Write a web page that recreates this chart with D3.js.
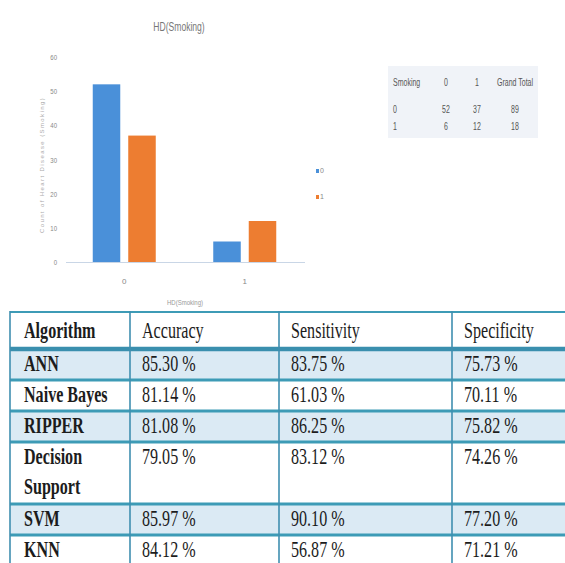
<!DOCTYPE html>
<html>
<head>
<meta charset="utf-8">
<script src="https://cdn.jsdelivr.net/npm/d3@7"></script>
<style>
  html, body { margin: 0; padding: 0; background: #fff; }
  svg { display: block; }
</style>
</head>
<body>
<div id="chart"></div>
<script>
// bar chart data (Smoking vs heart disease)
var categories = ["0", "1"];
var seriesNames = ["0", "1"];
var series0 = [52, 6];
var series1 = [37, 12];
var yTicks = [0, 10, 20, 30, 40, 50, 60];

// pivot table next to the chart
var pivotHeader = ["Smoking", "0", "1", "Grand Total"];

// results table
var tableHeader = ["Algorithm", "Accuracy", "Sensitivity", "Specificity"];
var algorithms = ["ANN", "Naive Bayes", "RIPPER", "Decision Support", "SVM", "KNN"];
var accuracy = [85.30, 81.14, 81.08, 79.05, 85.97, 84.12];
var sensitivity = [83.75, 61.03, 86.25, 83.12, 90.10, 56.87];
var specificity = [75.73, 70.11, 75.82, 74.26, 77.20, 71.21];

var width = 565, height = 563;
var colors = ["#4a90d9", "#ed7d31"];

var svg = d3.select("#chart").append("svg")
    .attr("width", width)
    .attr("height", height);

// ---------- bar chart ----------
var x0 = d3.scaleBand().domain(categories).range([64, 305]);
var x1 = d3.scaleBand().domain(seriesNames)
    .range([0, x0.bandwidth()])
    .paddingInner(0.225).paddingOuter(0.81);
var y = d3.scaleLinear().domain([0, 60]).range([262, 57]);

var barData = categories.map(function(c, i) {
    return { c: c, vals: [series0[i], series1[i]] };
});

svg.append("text")
    .attr("transform", "translate(179,31) scale(0.66,1)")
    .attr("text-anchor", "middle")
    .style("font-family", "Liberation Sans")
    .style("font-size", "13px")
    .style("fill", "#777")
    .text("HD(Smoking)");

svg.append("g").selectAll("text")
    .data(yTicks)
    .enter().append("text")
    .attr("transform", function(d) { return "translate(57," + (y(d) + 3) + ") scale(0.75,1)"; })
    .attr("text-anchor", "end")
    .style("font-family", "Liberation Sans")
    .style("font-size", "8px")
    .style("fill", "#888")
    .text(function(d) { return d; });

svg.append("text")
    .attr("transform", "translate(44,165) rotate(-90)")
    .attr("text-anchor", "middle")
    .style("font-family", "Liberation Sans")
    .style("font-size", "6px")
    .style("letter-spacing", "1.4px")
    .style("fill", "#aaa")
    .text("Count of Heart Disease (Smoking)");

var groups = svg.append("g").selectAll("g")
    .data(barData)
    .enter().append("g")
    .attr("transform", function(d) { return "translate(" + x0(d.c) + ",0)"; });

groups.selectAll("rect")
    .data(function(d) { return d.vals.map(function(v, i) { return { s: seriesNames[i], v: v, i: i }; }); })
    .enter().append("rect")
    .attr("x", function(d) { return x1(d.s); })
    .attr("width", x1.bandwidth())
    .attr("y", function(d) { return y(d.v); })
    .attr("height", function(d) { return y(0) - y(d.v); })
    .attr("fill", function(d) { return colors[d.i]; });

svg.append("line")
    .attr("x1", 66).attr("x2", 305)
    .attr("y1", y(0) + 0.5).attr("y2", y(0) + 0.5)
    .attr("stroke", "#c9d6e6").attr("stroke-width", 1);

svg.append("g").selectAll("text")
    .data(categories)
    .enter().append("text")
    .attr("x", function(d) { return x0(d) + x0.bandwidth() / 2; })
    .attr("y", 284)
    .attr("text-anchor", "middle")
    .style("font-family", "Liberation Sans")
    .style("font-size", "8px")
    .style("fill", "#888")
    .text(function(d) { return d; });

svg.append("text")
    .attr("transform", "translate(185,305) scale(0.75,1)")
    .attr("text-anchor", "middle")
    .style("font-family", "Liberation Sans")
    .style("font-size", "8px")
    .style("fill", "#999")
    .text("HD(Smoking)");

// legend
var legend = svg.append("g").selectAll("g")
    .data(seriesNames)
    .enter().append("g")
    .attr("transform", function(d, i) { return "translate(316," + (173 + i * 26) + ")"; });
legend.append("rect")
    .attr("x", 0).attr("y", -4).attr("width", 3).attr("height", 4)
    .attr("fill", function(d, i) { return colors[i]; });
legend.append("text")
    .attr("x", 4).attr("y", 0)
    .style("font-family", "Liberation Sans")
    .style("font-size", "7px")
    .style("fill", "#888")
    .text(function(d) { return d; });

// pivot table
var pivot = svg.append("g");
pivot.append("rect")
    .attr("x", 388).attr("y", 66).attr("width", 150).attr("height", 72)
    .attr("fill", "#f0f3f8");
var pivotRows = [pivotHeader].concat(categories.map(function(c, i) {
    return [c, series0[i], series1[i], series0[i] + series1[i]];
}));
var pivotX = [393, 446, 477, 515];
var pivotY = [86, 113, 130];
var pivotAnchor = ["start", "middle", "middle", "middle"];
pivotRows.forEach(function(row, r) {
    pivot.selectAll(null)
        .data(row)
        .enter().append("text")
        .attr("transform", function(d, i) { return "translate(" + pivotX[i] + "," + pivotY[r] + ") scale(0.7,1)"; })
        .attr("text-anchor", function(d, i) { return pivotAnchor[i]; })
        .style("font-family", "Liberation Sans")
        .style("font-size", "10px")
        .style("fill", "#555")
        .text(function(d) { return d; });
});

// ---------- results table ----------
var colEdges = [10, 130, 279, 452, 640];
var fmt = function(v) { return d3.format(".2f")(v) + " %"; };
var lineColor = "#3d9bb6";

var rows = algorithms.map(function(a, i) {
    var name = a.length > 12 ? a.split(" ") : [a];
    return { name: name, vals: [fmt(accuracy[i]), fmt(sensitivity[i]), fmt(specificity[i])], units: name.length };
});
var cum = [0];
rows.forEach(function(r, i) { cum.push(cum[i] + r.units); });
var ry = d3.scaleLinear().domain([0, 7]).range([349, 566]);

var table = svg.append("g");

// shaded rows
table.selectAll(".shade")
    .data(rows)
    .enter().append("rect")
    .attr("x", colEdges[0])
    .attr("y", function(d, i) { return ry(cum[i]); })
    .attr("width", colEdges[4] - colEdges[0])
    .attr("height", function(d, i) { return ry(cum[i + 1]) - ry(cum[i]); })
    .attr("fill", function(d, i) { return i % 2 === 0 ? "#dbeaf4" : "#fff"; });

// horizontal rules
table.append("line")
    .attr("x1", colEdges[0]).attr("x2", width)
    .attr("y1", 312).attr("y2", 312)
    .attr("stroke", lineColor).attr("stroke-width", 2);
table.append("line")
    .attr("x1", colEdges[0]).attr("x2", width)
    .attr("y1", ry(0)).attr("y2", ry(0))
    .attr("stroke", "#3a8fae").attr("stroke-width", 4.5);
table.selectAll(".hr")
    .data(cum.slice(1, -1))
    .enter().append("line")
    .attr("x1", colEdges[0]).attr("x2", width)
    .attr("y1", function(d) { return ry(d); })
    .attr("y2", function(d) { return ry(d); })
    .attr("stroke", lineColor).attr("stroke-width", 3);

// vertical rules
table.selectAll(".vr")
    .data(colEdges.slice(0, 4))
    .enter().append("line")
    .attr("x1", function(d) { return d; }).attr("x2", function(d) { return d; })
    .attr("y1", 311).attr("y2", height)
    .attr("stroke", "#3f8fb0").attr("stroke-width", 1.6);

function cellText(g, txt, xx, yy, bold) {
    g.append("text")
        .attr("transform", "translate(" + xx + "," + yy + ") scale(0.7,1)")
        .style("font-family", "Liberation Serif")
        .style("font-size", "23px")
        .style("font-weight", bold ? "bold" : "normal")
        .style("fill", "#1c1c1c")
        .text(txt);
}

tableHeader.forEach(function(h, i) {
    cellText(table, h, colEdges[i] + (i === 0 ? 14 : 12), 338, i === 0);
});

rows.forEach(function(r, i) {
    var top = ry(cum[i]);
    r.name.forEach(function(line, k) {
        cellText(table, line, colEdges[0] + 14, top + 22 + k * 30, true);
    });
    r.vals.forEach(function(v, j) {
        cellText(table, v, colEdges[j + 1] + 12, top + 22, false);
    });
});
</script>
</body>
</html>
